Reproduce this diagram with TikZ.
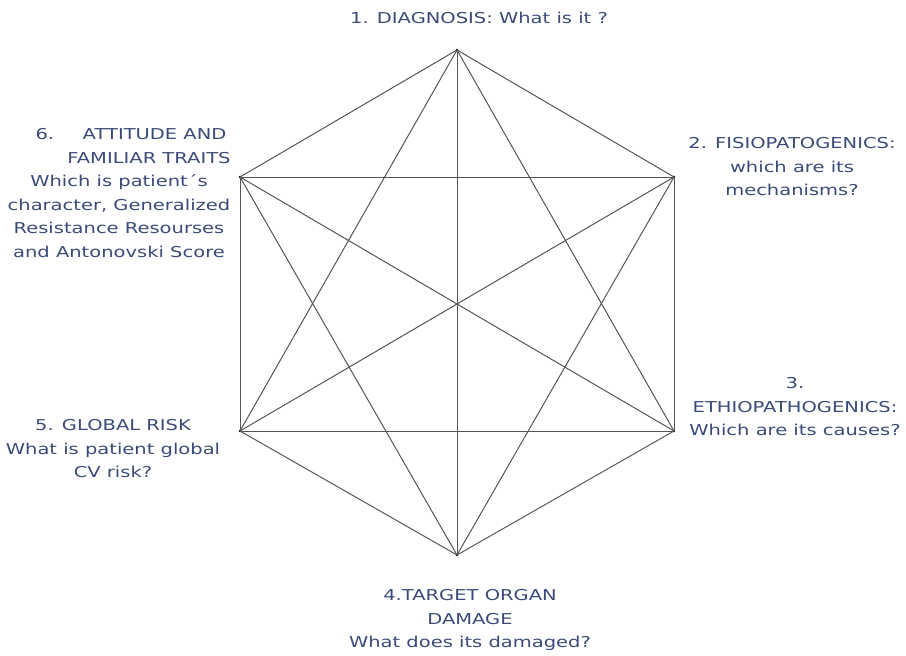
\documentclass[tikz,border=0pt]{standalone}
\usepackage{fontspec}
\setmainfont{DejaVu Sans}[FakeStretch=1.3]
\definecolor{txt}{HTML}{3B4A78}
\definecolor{edge}{HTML}{555555}
\begin{document}
\begin{tikzpicture}[x=1pt,y=-1pt,
  lbl/.style={text=txt,font=\fontsize{15}{23.5}\selectfont,align=center,inner sep=0pt},
  vtx/.style={circle,fill=black,inner sep=0pt,minimum size=2.8pt},
  edgeline/.style={draw=edge,line width=1pt}]
\useasboundingbox (0,0) rectangle (906,656);
\node[vtx] (v1) at (457,50) {};
\node[vtx] (v2) at (674,177) {};
\node[vtx] (v3) at (674,431) {};
\node[vtx] (v4) at (457,555) {};
\node[vtx] (v5) at (240,431) {};
\node[vtx] (v6) at (240,177) {};
\foreach \a/\b in {v1/v2,v1/v3,v1/v4,v1/v5,v1/v6,v2/v3,v2/v4,v2/v5,v2/v6,v3/v4,v3/v5,v3/v6,v4/v5,v4/v6,v5/v6}
  \draw[edgeline] (\a.center) -- (\b.center);
\node[lbl] (t1) at (479,18) {1. DIAGNOSIS: What is it ?};
\node[lbl] (t2) at (792,167) {2. FISIOPATOGENICS:\\which are its\\mechanisms?};
\node[lbl] (t3) at (795,407) {3.\\ETHIOPATHOGENICS:\\Which are its causes?};
\node[lbl] (t4) at (470,620) {4.TARGET ORGAN\\DAMAGE\\What does its damaged?};
\node[lbl] (t5) at (113,449) {5. GLOBAL RISK\\What is patient global\\CV risk?};
\node[lbl] (t6) at (119,193) {\hspace*{1.6em}6.\hspace{1.9em}ATTITUDE AND\\\hspace*{4em}FAMILIAR TRAITS\\Which is patient´s\\character, Generalized\\Resistance Resourses\\and Antonovski Score};
\end{tikzpicture}
\end{document}
